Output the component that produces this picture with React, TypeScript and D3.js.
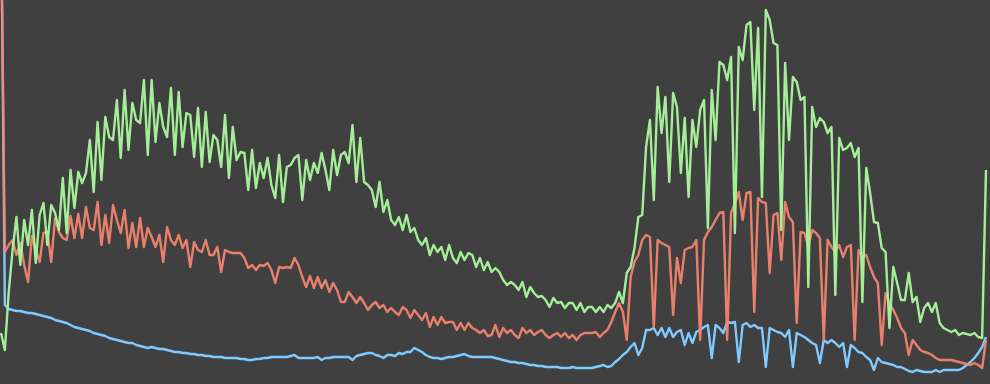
import React from 'react';
import * as d3 from 'd3';

// values (height units, 0 = bottom edge, 384 = top edge)
const greenSeries = [
  51,34,92,134,167,119,164,139,174,121,
  169,181,139,179,171,154,206,151,214,176,
  212,201,211,244,192,262,204,267,247,244,
  284,226,294,234,281,264,261,304,229,304,
  242,281,257,247,296,229,292,237,271,269,
  227,276,217,272,222,249,244,217,269,206,
  257,224,232,231,194,234,196,221,206,226,
  199,186,229,182,217,219,226,229,184,224,
  204,221,211,231,214,194,234,209,229,232,
  221,259,202,246,202,199,194,177,202,172,
  184,164,159,167,154,169,152,156,144,139,
  146,129,139,132,137,124,139,126,121,132,
  124,131,129,117,126,114,122,112,116,112,
  104,99,102,99,94,102,87,97,91,87,
  88,84,77,86,81,82,76,81,81,74,
  81,72,77,77,72,77,72,79,76,81,
  92,81,111,117,136,167,169,237,264,184,
  297,251,287,202,291,277,211,266,187,264,
  237,274,284,156,294,244,322,319,304,327,
  151,337,324,359,362,274,356,187,374,364,
  341,339,154,321,244,307,302,284,287,97,
  277,257,266,262,251,257,89,246,234,236,
  241,227,236,82,216,191,162,161,136,132,
  56,117,101,84,84,111,82,87,62,76,
  81,72,81,61,56,54,52,54,49,51,
  50,49,51,47,46,214,
];

const redSeries = [
  474,132,139,144,129,141,119,102,148,134,
  122,151,152,122,166,152,146,144,168,146,
  170,146,177,156,154,182,139,169,141,179,
  164,151,174,136,161,137,166,137,156,147,
  137,149,122,157,144,139,149,136,144,117,
  142,134,132,144,129,129,137,112,134,132,
  131,131,131,126,116,119,114,119,118,121,
  114,101,117,116,117,116,126,119,107,97,
  108,96,107,96,104,92,101,94,82,82,
  92,87,81,87,81,74,79,82,76,79,
  72,76,72,69,77,74,66,74,69,64,
  71,57,67,59,67,61,62,62,54,61,
  54,61,56,54,51,54,48,49,59,47,
  56,51,54,49,46,56,51,54,49,52,
  54,49,46,49,51,47,51,46,49,44,
  49,51,51,51,52,47,51,54,62,72,
  81,72,44,107,122,129,144,149,147,57,
  144,141,139,137,69,126,101,134,136,137,
  144,44,144,152,157,164,171,172,44,171,
  181,192,164,191,192,72,186,182,181,111,
  169,171,124,182,167,162,61,152,151,137,
  154,151,146,44,144,137,132,139,127,137,
  139,44,134,127,129,117,107,101,39,91,
  81,74,66,56,51,29,44,39,34,32,
  31,29,26,24,24,24,24,23,22,21,
  20,19,21,19,16,44,
];

const blueSeries = [
  489,79,75,74,73,73,72,71,71,70,
  69,68,67,66,64,63,62,61,59,57,
  56,55,54,53,51,50,49,48,46,45,
  44,43,42,41,41,39,38,37,36,37,
  36,35,35,34,33,32,32,31,31,30,
  30,29,29,28,28,27,27,27,26,26,
  26,26,25,25,24,24,25,25,26,26,
  27,27,27,27,27,28,29,26,26,26,
  26,26,27,24,26,26,27,27,27,27,
  27,24,28,29,30,31,31,29,28,26,
  29,29,28,31,30,32,32,36,34,32,
  29,27,26,26,25,26,27,27,28,29,
  30,28,27,27,27,27,27,27,26,25,
  24,23,22,22,21,21,20,19,19,18,
  18,17,17,17,17,16,16,16,17,16,
  16,16,16,16,17,18,19,17,18,22,
  25,29,32,37,41,29,36,54,54,56,
  49,56,47,56,47,52,54,39,51,41,
  52,54,57,59,26,59,56,51,62,61,
  62,22,59,61,57,59,56,56,17,56,
  54,52,51,47,54,17,51,49,47,44,
  41,39,21,44,41,44,41,37,41,17,
  39,36,32,31,27,24,14,26,22,21,
  20,19,17,17,15,13,12,14,13,12,
  12,12,14,12,14,14,14,14,14,16,
  19,22,26,31,37,47,
];

const W = 990;
const H = 384;

export default function App() {
  const n = greenSeries.length;
  const x = d3.scaleLinear().domain([0, n - 1]).range([1, 986]);
  const y = d3.scaleLinear().domain([0, 384]).range([H, 0]);
  const line = d3
    .line<number>()
    .x((_, i) => x(i))
    .y((d) => y(d));

  return (
    <svg
      width={W}
      height={H}
      style={{ position: 'fixed', left: 0, top: 0, display: 'block' }}
    >
      <rect width={W} height={H} fill="#404040" />
      <path d={line(blueSeries) || ''} fill="none" stroke="#80caff" strokeWidth={2.4} strokeLinejoin="round" />
      <path d={line(redSeries) || ''} fill="none" stroke="#f7866f" strokeWidth={2.4} strokeLinejoin="round" strokeOpacity={0.92} />
      <path d={line(greenSeries) || ''} fill="none" stroke="#a9f89c" strokeWidth={2.4} strokeLinejoin="round" strokeOpacity={0.95} />
    </svg>
  );
}
